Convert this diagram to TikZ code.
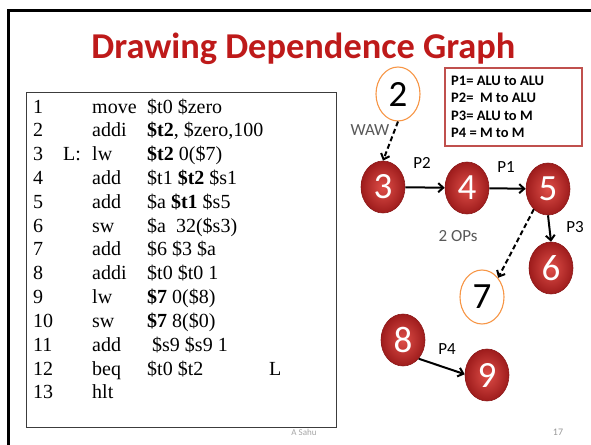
\documentclass[tikz,border=0pt]{standalone}
\usepackage{fontspec}
\setmainfont{Liberation Serif}
\newfontfamily\calfont{Carlito}
\usetikzlibrary{shapes.geometric,arrows.meta}
\definecolor{titlered}{RGB}{190,26,26}
\definecolor{legendred}{RGB}{192,80,77}
\definecolor{ringorange}{RGB}{247,150,70}
\definecolor{ballin}{RGB}{222,78,72}
\definecolor{ballout}{RGB}{158,28,28}
\definecolor{balledge}{RGB}{140,25,25}
\definecolor{labelgray}{RGB}{89,89,89}
\definecolor{boxgray}{RGB}{60,60,60}
\tikzset{
  code/.style={anchor=base west, inner sep=0, font=\fontsize{20}{24}\selectfont},
  ballnode/.style={ellipse, minimum width=44, minimum height=52, inner sep=0,
    shading=radial, inner color=ballin, outer color=ballout, draw=balledge, line width=0.6,
    text=white, font=\calfont\fontsize{37}{37}\selectfont},
  ringnode/.style={ellipse, minimum width=44, minimum height=54, inner sep=0,
    draw=ringorange, line width=1.1, fill=white,
    text=black, font=\calfont\fontsize{37}{37}\selectfont},
  plabel/.style={inner sep=0, font=\calfont\fontsize{17}{17}\selectfont},
  glabel/.style={plabel, text=labelgray},
  dep/.style={line width=2, -{Straight Barb[length=5pt,width=9pt,line width=2pt]}},
  depdash/.style={dep, dash pattern=on 5pt off 3pt},
}
\begin{document}
\begin{tikzpicture}[x=1pt,y=-1pt]
\useasboundingbox (0,0) rectangle (591,444);
\fill[white] (0,0) rectangle (591,444);
\begin{scope}
  \clip (0,0) rectangle (591,444);
  \draw[line width=3] (8,10.5) rectangle (650,480);
\end{scope}

% title
\node[anchor=base, inner sep=0, text=titlered, font=\calfont\bfseries\fontsize{36.4}{36.4}\selectfont] (title) at (303.5,59) {Drawing Dependence Graph};

% code box
\draw[boxgray, line width=1] (26,92) rectangle (336,427);
\foreach \n/\m [count=\i] in {1/move,2/addi,3/lw,4/add,5/add,6/sw,7/add,8/addi,9/lw,10/sw,11/add,12/beq,13/hlt}{
  \node[code] (num\i) at (33,{113+(\i-1)*23.83}) {\n};
  \node[code] (mn\i) at (92,{113+(\i-1)*23.83}) {\m};
}
\node[code] (lab3) at (63,{113+2*23.83}) {L:};
\node[code] (op1) at (147,{113+0*23.83}) {\$t0 \$zero};
\node[code] (op2) at (147,{113+1*23.83}) {\textbf{\$t2}, \$zero,100};
\node[code] (op3) at (147,{113+2*23.83}) {\textbf{\$t2} 0(\$7)};
\node[code] (op4) at (147,{113+3*23.83}) {\$t1 \textbf{\$t2} \$s1};
\node[code] (op5) at (147,{113+4*23.83}) {\$a \textbf{\$t1} \$s5};
\node[code] (op6) at (147,{113+5*23.83}) {\$a\ \ 32(\$s3)};
\node[code] (op7) at (147,{113+6*23.83}) {\$6 \$3 \$a};
\node[code] (op8) at (147,{113+7*23.83}) {\$t0 \$t0 1};
\node[code] (op9) at (147,{113+8*23.83}) {\textbf{\$7} 0(\$8)};
\node[code] (op10) at (147,{113+9*23.83}) {\textbf{\$7} 8(\$0)};
\node[code] (op11) at (152,{113+10*23.83}) {\$s9 \$s9 1};
\node[code] (op12) at (147,{113+11*23.83}) {\$t0 \$t2};
\node[code] (tgt12) at (269,{113+11*23.83}) {L};

% legend
\draw[legendred, line width=1.3] (445,68) rectangle (582,146);
\begin{scope}[every node/.style={anchor=west, inner sep=0, font=\calfont\bfseries\fontsize{14.5}{14.5}\selectfont}]
  \node (leg1) at (451,80.5) {P1= ALU to ALU};
  \node (leg2) at (451,98) {P2=\ \ M to ALU};
  \node (leg3) at (451,115.5) {P3= ALU to M};
  \node (leg4) at (451,133) {P4 = M to M};
\end{scope}

% graph nodes
\node[ringnode] (n2) at (398,94) {2};
\node[ballnode] (n3) at (383,187) {3};
\node[ballnode] (n4) at (467,188) {4};
\node[ballnode] (n5) at (548,189) {5};
\node[ballnode] (n6) at (551,268) {6};
\node[ringnode] (n7) at (482,297) {7};
\node[ballnode] (n8) at (403,340) {8};
\node[ballnode] (n9) at (487,375) {9};

% edges
\draw[depdash] (n2.south) -- (n3.north);
\draw[dep] (n3) -- (n4);
\draw[dep] (n4) -- (n5);
\draw[dep] (n5.south) -- (n6.north);
\draw[depdash] (n5.235) -- (n7.50);
\draw[dep] (n8.-50) -- (n9.178);

% labels
\node[glabel] (waw) at (370,130) {WAW};
\node[plabel] (p2) at (422,163) {P2};
\node[plabel] (p1) at (506,167) {P1};
\node[plabel] (p3) at (575,227) {P3};
\node[glabel] (ops) at (458,236) {2 OPs};
\node[plabel] (p4) at (447,349) {P4};

% footer
\node[inner sep=0, text=gray!70, font=\calfont\fontsize{9}{9}\selectfont] (author) at (304,432) {A Sahu};
\node[inner sep=0, text=gray!80, font=\calfont\fontsize{10}{10}\selectfont] (page) at (558,432) {17};
\end{tikzpicture}
\end{document}
